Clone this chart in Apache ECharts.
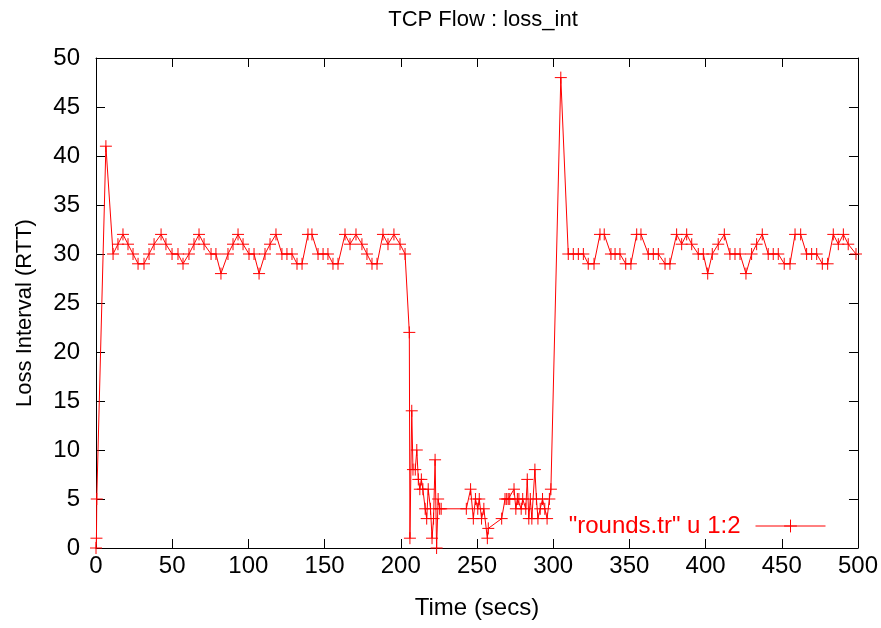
<!DOCTYPE html>
<html><head><meta charset="utf-8">
<script src="https://cdn.jsdelivr.net/npm/echarts@6/dist/echarts.min.js"></script>
<style>html,body{margin:0;padding:0;background:#fff}#c{width:881px;height:628px}</style>
</head><body><div id="c"></div>
<script>
const title = 'TCP Flow : loss_int';
const xName = 'Time (secs)';
const yName = 'Loss Interval (RTT)';
const legendName = '"rounds.tr" u 1:2';
const xTicks = [0,50,100,150,200,250,300,350,400,450,500];
const yTicks = [0,5,10,15,20,25,30,35,40,45,50];

const times = [
  0,0.3,0.5,6.5,
  11.2,14.4,17.7,21.0,24.3,27.6,31.5,34.8,38.1,42.7,45.9,49.9,53.8,57.1,61.0,64.3,67.6,70.9,
  75.5,78.7,82.0,86.6,89.9,93.2,96.5,100.4,103.7,107.0,110.9,114.2,118.1,122.0,125.3,128.6,
  131.9,135.2,139.1,141.7,145.7,149.0,152.2,155.5,158.8,163.4,166.7,170.6,174.5,177.8,181.1,
  184.4,188.3,191.6,195.5,199.5,202.8,
  205.6,206.0,207.2,208.0,209.5,210.5,211.5,212.5,213.5,214.5,216.0,217.0,218.0,219.5,220.5,
  221.5,222.5,223.5,224.5,225.5,226.5,243.0,
  245.8,247.6,249.0,250.5,251.5,253.0,254.5,256.8,257.4,266.2,268.4,269.5,270.5,271.5,274.3,
  275.5,276.5,277.5,279.0,280.0,282.0,283.0,284.0,285.0,286.0,288.0,289.0,290.0,291.5,293.0,
  294.5,296.0,297.5,298.5,305.0,
  309.9,313.2,316.5,319.8,323.0,326.8,330.7,333.5,337.9,340.6,343.8,347.6,351.0,354.8,357.6,
  362.4,365.7,369.0,373.4,376.6,381.0,384.3,387.6,390.9,395.2,398.5,401.4,404.4,408.3,412.3,
  416.0,419.3,422.6,426.5,430.2,433.5,437.2,441.1,444.4,447.7,451.6,455.4,458.7,462.4,466.3,
  469.6,472.9,476.6,480.1,483.8,487.1,490.4,493.6,498.7
];
const values = [
  0,1,5,41,
  30,31,32,31,30,29,29,30,31,32,31,30,30,29,30,31,32,31,
  30,30,28,30,31,32,31,30,30,28,30,31,32,30,30,30,
  29,29,32,32,30,30,30,29,29,32,31,32,31,30,29,
  29,32,31,32,31,30,
  22,1,14,8,8,10,7,6,7,6,4,3,6,4,1,
  3,9,0,5,4,4,4,
  6,3,5,4,5,3,4,1,2,3,5,5,5,5,6,
  4,5,5,4,5,4,7,3,5,3,8,5,3,4,5,
  4,3,5,6,48,
  30,30,30,30,29,29,32,32,30,30,30,29,29,32,32,
  30,30,30,29,29,32,31,32,31,30,30,28,30,31,32,
  30,30,30,28,30,31,32,30,30,30,29,29,32,32,30,
  30,30,29,29,32,31,32,31,30
];

const plusPath = 'path://M0,5L10,5M5,0L5,10';
const font = 'Liberation Sans, Arial, Helvetica, sans-serif';
const chart = echarts.init(document.getElementById('c'), null, {renderer:'canvas'});
const axisCommon = {
  min: 0, axisLine:{show:true, onZero:false, lineStyle:{color:'#000', width:1}},
  axisTick:{show:true, inside:true, length:9, lineStyle:{color:'#000'}},
  splitLine:{show:false}
};
chart.setOption({
  animation:false,
  backgroundColor:'#fff',
  title:{text:title, left:478, top:4, textAlign:'center',
    textStyle:{fontFamily:font, fontSize:22, fontWeight:'normal', color:'#000'}},
  grid:{left:96, right:23, top:58, bottom:80, show:false},
  legend:{show:true, right:50, top:509, align:'right', itemWidth:70, itemHeight:16, itemGap:10,
    data:[{name:legendName}],
    lineStyle:{width:1, color:'#ff0000'},
    itemStyle:{color:'#ff0000', borderColor:'#ff0000', borderWidth:1},
    textStyle:{fontFamily:font, fontSize:24, color:'#ff0000', padding:[0,10,0,0]}},
  xAxis:[
    Object.assign({}, axisCommon, {type:'value', max:500, interval:50, position:'bottom',
      name:xName, nameLocation:'middle', nameGap:48,
      nameTextStyle:{fontFamily:font, fontSize:24, color:'#000'},
      axisLabel:{fontFamily:font, fontSize:24, color:'#000', margin:6}}),
    Object.assign({}, axisCommon, {type:'value', max:500, interval:50, position:'top',
      axisLabel:{show:false}})
  ],
  yAxis:[
    Object.assign({}, axisCommon, {type:'value', max:50, interval:5, position:'left',
      name:yName, nameLocation:'middle', nameGap:60,
      nameTextStyle:{fontFamily:font, fontSize:22, color:'#000', padding:[0,20,0,0]},
      axisLabel:{fontFamily:font, fontSize:24, color:'#000', margin:16}}),
    Object.assign({}, axisCommon, {type:'value', max:50, interval:5, position:'right',
      axisLabel:{show:false}})
  ],
  series:[{
    name:legendName, type:'line', xAxisIndex:0, yAxisIndex:0,
    data: times.map((t,i)=>[t, values[i]]),
    symbol:plusPath, symbolSize:12, showAllSymbol:true,
    lineStyle:{color:'#ff0000', width:1},
    itemStyle:{color:'#ff0000', borderColor:'#ff0000', borderWidth:1},
    emphasis:{disabled:true}
  }]
});
</script></body></html>
